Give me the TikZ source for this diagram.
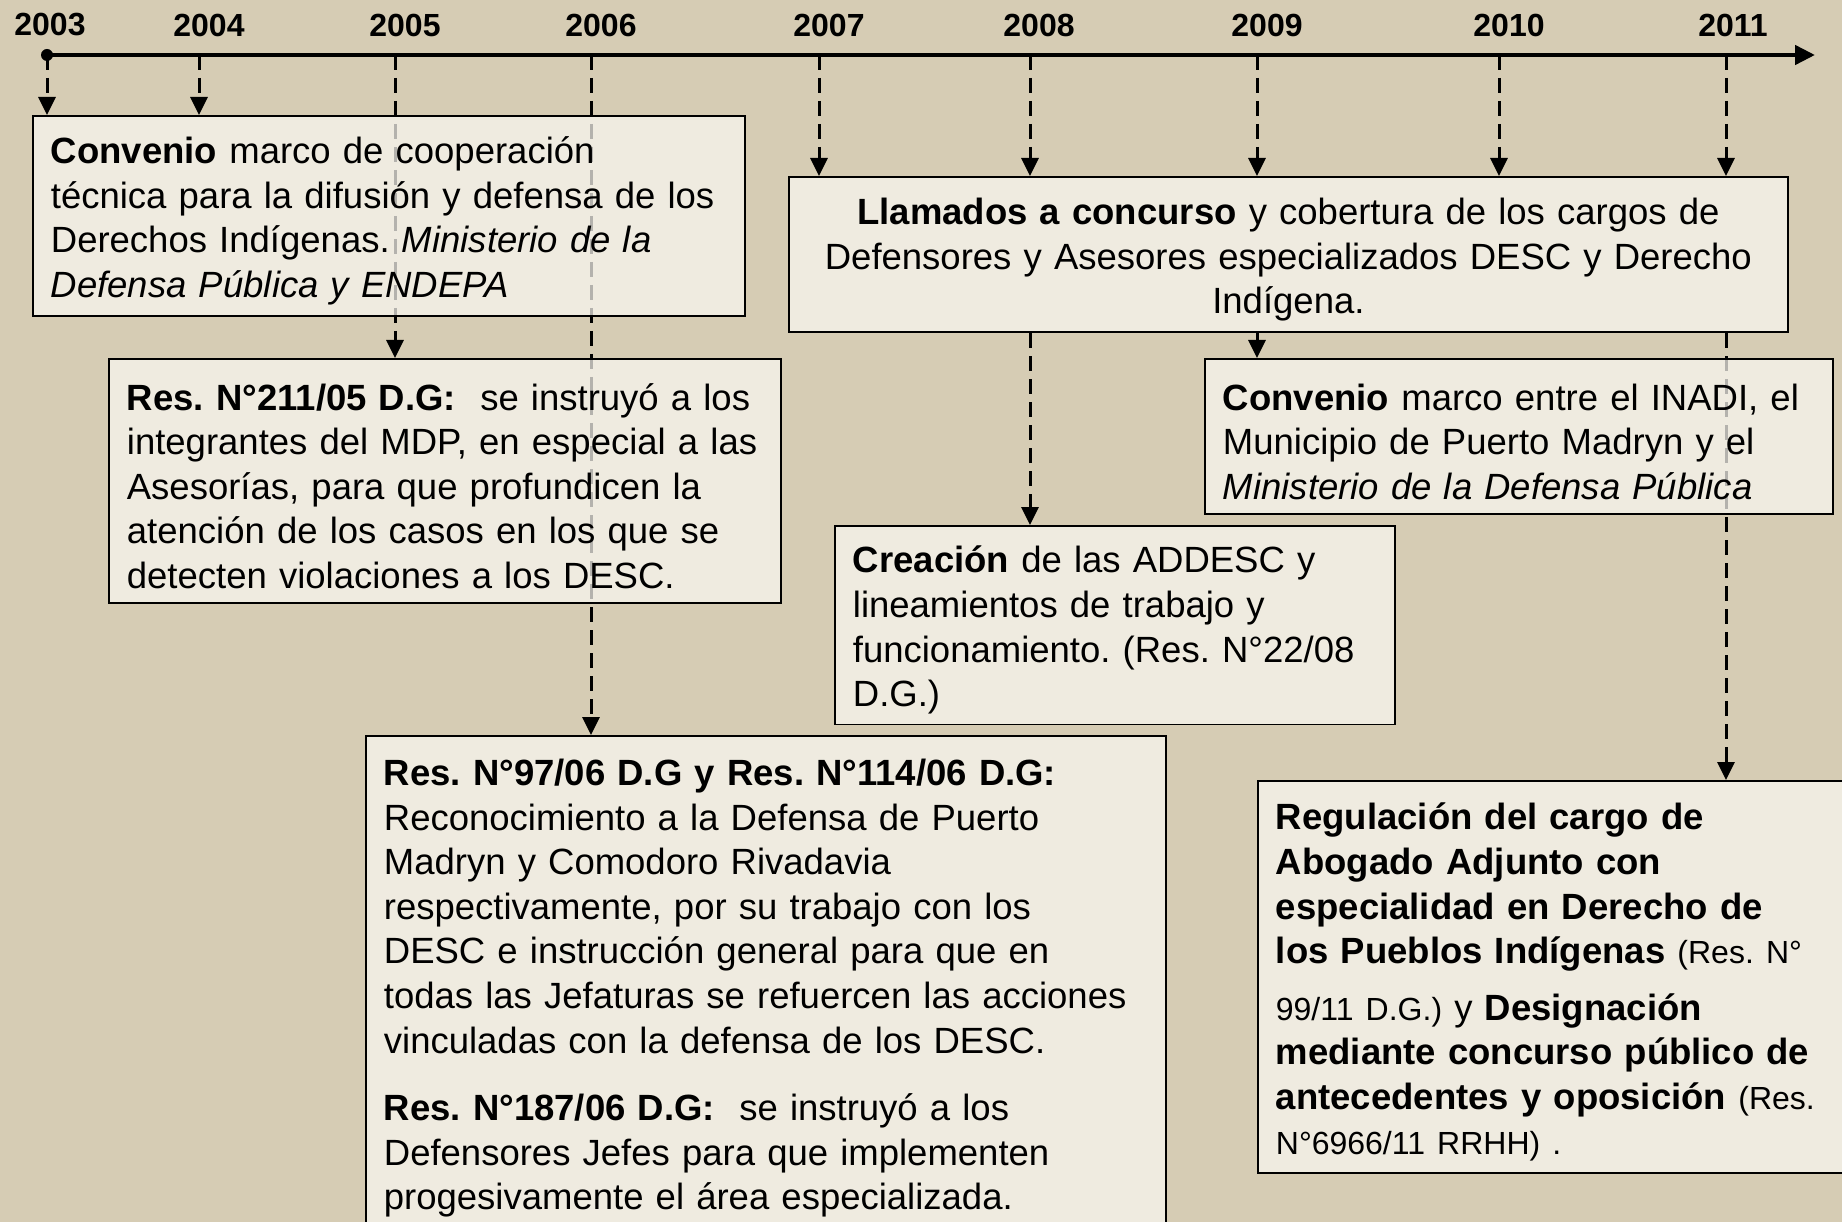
\documentclass[tikz,border=0pt]{standalone}
\usepackage{fontspec}
\setmainfont{Liberation Sans}
\usetikzlibrary{arrows.meta}
\frenchspacing

\definecolor{linen}{RGB}{214,204,180}
\definecolor{paper}{RGB}{250,248,241}

\pgfdeclarelayer{backdrop}
\pgfdeclarelayer{links}
\pgfsetlayers{backdrop,links,main}

\newcommand{\restxt}[1]{{\fontsize{32}{44.6}\selectfont #1}}

\tikzset{
  event/.style={draw, line width=1.8pt, fill=paper, fill opacity=0.72,
    text opacity=1, anchor=north west, inner xsep=18pt, inner ysep=0pt,
    align=left, font=\fontsize{36.5}{44.6}\selectfont,
    execute at begin node={\rule{0pt}{37pt}}},
  year/.style={font=\fontsize{32}{38}\selectfont\bfseries, inner sep=0pt},
  link/.style={line width=3pt, dash pattern=on 15pt off 8pt,
    -{Triangle[length=18pt,width=17pt]}},
}

\begin{document}
\begin{tikzpicture}[x=1pt, y=-1pt]
  \useasboundingbox (0,0) rectangle (1842,1222);
  \begin{pgfonlayer}{backdrop}
    \fill[linen] (0,0) rectangle (1842,1222);
  \end{pgfonlayer}

  \foreach \yr/\tx/\lx in {2003/47/50, 2004/199/209, 2005/395/405, 2006/591/601,
      2007/819/829, 2008/1030/1039, 2009/1257/1267, 2010/1499/1509, 2011/1726/1733}{
    \coordinate (t\yr) at (\tx,55);
    \node[year] (lbl\yr) at (\lx,25) {\yr};
  }
  \coordinate (tend) at (1815,55);
  \draw[line width=4.5pt, -{Triangle[length=20pt,width=19pt]}] (t2003) -- (tend);
  \fill (t2003) circle (6pt);

  \node[event, text width=676pt, minimum height=200pt] (conv03) at (32,115)
    {\textbf{Convenio} marco de cooperación\\
     técnica para la difusión y defensa de los\\
     Derechos Indígenas. \textit{Ministerio de la}\\
     \textit{Defensa Pública y ENDEPA}};
  \node[event, text width=636pt, minimum height=244pt] (res211) at (108,358)
    {\textbf{Res. N°211/05 D.G:}\ \ se instruyó a los\\
     integrantes del MDP, en especial a las\\
     Asesorías, para que profundicen la\\
     atención de los casos en los que se\\
     detecten violaciones a los DESC.};
  \node[event, text width=764pt, minimum height=494pt] (res97) at (365,735)
    {\textbf{Res. N°97/06 D.G y Res. N°114/06 D.G:}\\
     Reconocimiento a la Defensa de Puerto\\
     Madryn y Comodoro Rivadavia\\
     respectivamente, por su trabajo con los\\
     DESC e instrucción general para que en\\
     todas las Jefaturas se refuercen las acciones\\
     vinculadas con la defensa de los DESC.\\[23pt]
     \textbf{Res. N°187/06 D.G:}\ \ se instruyó a los\\
     Defensores Jefes para que implementen\\
     progesivamente el área especializada.};
  \node[event, align=center, text width=963pt, minimum height=155.5pt] (llamados) at (788,176)
    {\textbf{Llamados a concurso} y cobertura de los cargos de\\
     Defensores y Asesores especializados DESC y Derecho\\
     Indígena.};
  \node[event, text width=592pt, minimum height=155pt] (inadi) at (1204,358)
    {\textbf{Convenio} marco entre el INADI, el\\
     Municipio de Puerto Madryn y el\\
     \textit{Ministerio de la Defensa Pública}};
  \node[event, text width=524pt, minimum height=198.5pt] (addesc) at (834,525)
    {\textbf{Creación} de las ADDESC y\\
     lineamientos de trabajo y\\
     funcionamiento. (Res. N°22/08\\
     D.G.)};
  \node[event, text width=577pt, minimum height=392pt] (abogado) at (1257,780)
    {\textbf{Regulación del cargo de}\\
     \textbf{Abogado Adjunto con}\\
     \textbf{especialidad en Derecho de}\\
     \textbf{los Pueblos Indígenas} \restxt{(Res. N°}\\[12pt]
     \restxt{99/11 D.G.)}\ y \textbf{Designación}\\
     \textbf{mediante concurso público de}\\
     \textbf{antecedentes y oposición} \restxt{(Res.}\\
     \restxt{N°6966/11 RRHH) .}};

  \begin{pgfonlayer}{links}
    \foreach \yr in {2003,2004}
      \draw[link] (t\yr) -- (t\yr |- conv03.north);
    \draw[link] (t2005) -- (t2005 |- res211.north);
    \draw[link] (t2006) -- (t2006 |- res97.north);
    \foreach \yr in {2007,...,2011}
      \draw[link] (t\yr) -- (t\yr |- llamados.north);
    \draw[link] (t2008 |- llamados.south) -- (t2008 |- addesc.north);
    \draw[link] (t2009 |- llamados.south) -- (t2009 |- inadi.north);
    \draw[link] (t2011 |- llamados.south) -- (t2011 |- abogado.north);
  \end{pgfonlayer}
\end{tikzpicture}
\end{document}
